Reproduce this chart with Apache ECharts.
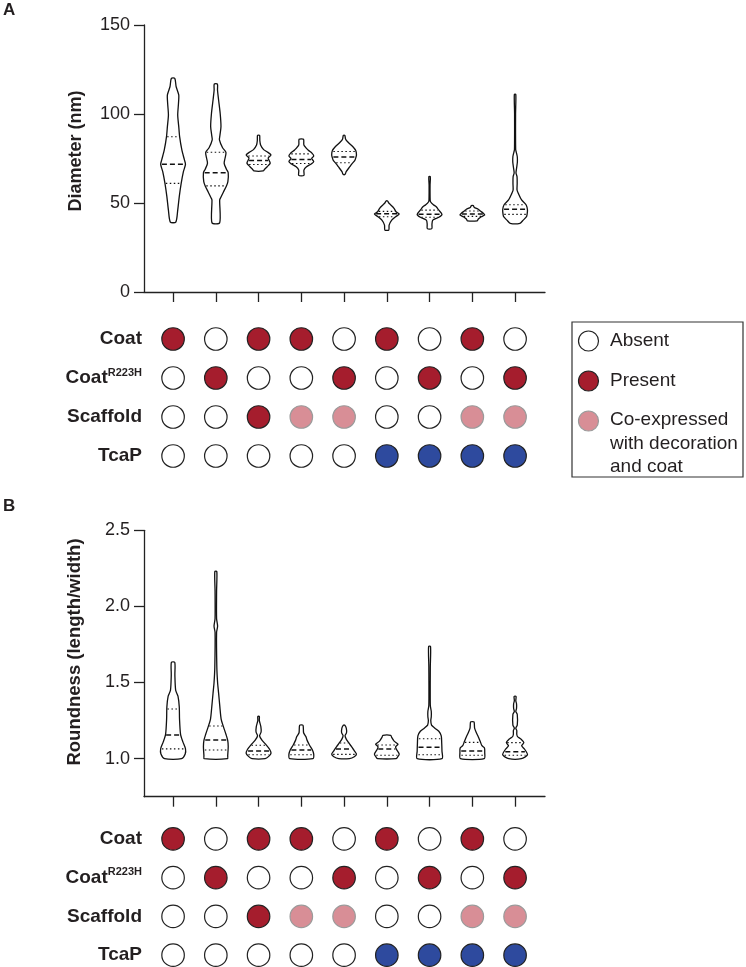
<!DOCTYPE html>
<html><head><meta charset="utf-8">
<script src="https://cdn.jsdelivr.net/npm/echarts@6/dist/echarts.min.js"></script>
<style>html,body{margin:0;padding:0;background:#fff}#c{width:746px;height:967px}</style>
</head><body><div id="c"></div>
<script>
// ---------- DATA ----------
const groupIndex = [0, 1, 2, 3, 4, 5, 6, 7, 8];
const rowNames = ['Coat', 'CoatR223H', 'Scaffold', 'TcaP'];
// 0 = absent, 1 = present, 2 = co-expressed with decoration and coat
const coatState      = [1, 0, 1, 1, 0, 1, 0, 1, 0];
const coatR223HState = [0, 1, 0, 0, 1, 0, 1, 0, 1];
const scaffoldState  = [0, 0, 1, 2, 2, 0, 0, 2, 2];
const tcapState      = [0, 0, 0, 0, 0, 1, 1, 1, 1];

const diameterTicks = [0, 50, 100, 150];
const roundnessTicks = [1.0, 1.5, 2.0, 2.5];

// violin density profiles: [value, relative density]
const diameterProfiles = [
  [[120.0,3.3],[115.3,6],[110.7,11],[106,10.5],[99.4,9],[92.9,11],[87.3,12.7],[79.8,17],[74.2,22],[71.7,24],[67.6,20],[61,15.7],[53.6,12],[46,9],[39.3,5.3]],
  [[116.8,3.3],[113.5,3.5],[108,5.7],[100.4,9],[93,10.7],[88,8.5],[85.4,7.5],[81,14],[78.5,21],[75,19],[72.3,17.3],[69,22],[67,25.7],[62,25],[59.6,22],[56.3,16],[53,10],[51.7,8],[38.9,8]],
  [[88,2],[85,2.5],[82.6,4],[80,10],[78.8,16.7],[77,24.5],[75.3,19],[73.8,21],[72.3,23],[70.4,17],[69,12],[68,9]],
  [[85.8,4.3],[82.6,5],[79.8,13],[77.9,21],[76.4,24],[75.1,20],[73.2,24],[71.9,19],[70.4,10],[68.5,5],[65.5,5]],
  [[88,1.5],[86,3],[84.4,7.3],[81.6,18],[79.4,24],[77,25.3],[75.5,24],[73.8,21.7],[72,16],[70.4,11.7],[67.6,4.3],[66.1,2]],
  [[51.1,1.5],[50,4],[48.9,8],[47,14.7],[45.1,18.7],[43.8,25.3],[42.3,18],[40.4,10],[37.6,4.7],[34.8,4]],
  [[64.8,1.5],[60,1],[52,1.2],[50.7,2],[49,8],[47.9,14],[46.1,19],[43.6,26],[42,19.3],[40.4,6.7],[38,5],[35.6,4.7]],
  [[48.5,2],[47.5,4],[46.5,12],[45.5,16],[44.3,22],[43.3,25],[42.3,18],[41,12],[40,10]],
  [[111,1.5],[100,1],[80,1.2],[78.5,2.5],[76,4.5],[73,4.7],[70.4,3.5],[67.5,2],[66.7,2],[64.8,4],[61,4.3],[57.3,4],[55.4,6.7],[51.7,13.3],[48.9,22.7],[46.1,25.3],[43.6,24.5],[42.3,23.3],[40.4,16.7],[38.6,10]]
];
const diameterMedian = [71.7, 67.0, 73.9, 74.5, 75.8, 44.0, 43.7, 43.8, 46.5];
const diameterQ1     = [61.0, 59.6, 71.6, 72.2, 72.6, 42.3, 42.0, 42.5, 43.6];
const diameterQ3     = [87.2, 78.5, 76.4, 77.6, 78.9, 45.3, 46.0, 45.5, 49.0];

const roundnessProfiles = [
  [[1.632,3.3],[1.55,3.5],[1.45,5],[1.41,9.5],[1.34,12],[1.26,12.5],[1.16,14.5],[1.11,19],[1.065,24],[1.03,23.5],[1.0,16.5]],
  [[2.229,2],[2.1,1.5],[1.92,1.5],[1.87,3.5],[1.83,1.5],[1.6,2],[1.5,3.5],[1.43,5.5],[1.34,8],[1.26,10.5],[1.21,15],[1.16,20],[1.12,23.5],[1.08,24.5],[1.02,23.5],[1.0,23]],
  [[1.277,1.5],[1.25,1.5],[1.21,4.5],[1.175,5],[1.15,2],[1.12,7],[1.09,15],[1.06,22],[1.035,24.5],[1.015,20],[1.0,13]],
  [[1.219,3.3],[1.17,4.5],[1.145,9],[1.12,11.5],[1.09,16],[1.06,21.5],[1.03,24.5],[1.0,23]],
  [[1.219,1.5],[1.2,4.5],[1.17,5],[1.15,2],[1.125,5],[1.10,10.5],[1.08,15],[1.05,21.5],[1.03,25.5],[1.012,21],[1.0,11]],
  [[1.153,8],[1.14,10],[1.115,15],[1.095,23],[1.077,18],[1.06,20],[1.03,25.5],[1.01,22],[1.0,19]],
  [[1.737,2],[1.6,1.5],[1.35,1.5],[1.31,3.5],[1.275,3.5],[1.25,2.5],[1.22,4],[1.2,11],[1.18,19],[1.15,24],[1.1,25],[1.05,25.5],[1.0,25.5]],
  [[1.241,3.3],[1.2,4.5],[1.17,8],[1.146,11.5],[1.114,15.5],[1.085,19],[1.07,24],[1.04,24.5],[1.0,23.5]],
  [[1.409,2],[1.38,1.5],[1.36,3],[1.33,3],[1.31,1.5],[1.29,4.5],[1.22,4.5],[1.2,1.5],[1.185,3.5],[1.16,3.5],[1.145,5],[1.13,11.5],[1.105,18],[1.085,13.5],[1.06,20],[1.025,25.5],[1.0,13]]
];
const roundnessMedian = [1.155, 1.123, 1.050, 1.057, 1.064, 1.064, 1.075, 1.050, 1.045];
const roundnessQ1     = [1.064, 1.057, 1.026, 1.026, 1.028, 1.022, 1.026, 1.022, 1.022];
const roundnessQ3     = [1.326, 1.214, 1.088, 1.090, 1.103, 1.090, 1.131, 1.107, 1.105];

// ---------- STYLE ----------
const FONT = 'Liberation Sans, Arial, Helvetica, sans-serif';
const INK = '#231f20';
const HALF = 0.29;   // violin half-width in category units
const X_MIN = -0.68, X_MAX = 8.70;
const RED = '#a51d2d', PINK = '#d88e96', BLUE = '#2e4a9e';

function interp(prof, v) {
  for (let k = 0; k < prof.length - 1; k++) {
    const [v0, w0] = prof[k], [v1, w1] = prof[k + 1];
    if (v <= v0 && v >= v1) { const t = (v0 - v) / ((v0 - v1) || 1); return w0 + (w1 - w0) * t; }
  }
  return prof[prof.length - 1][1];
}
function makeViolin(profiles, med, q1, q3) {
  return function (params, api) {
    const d = params.dataIndex;
    const x = api.value(0);
    const prof = profiles[d];
    const maxW = Math.max.apply(null, prof.map(p => p[1]));
    const r = [], l = [];
    prof.forEach(([v, w]) => {
      const h = w / maxW * HALF;
      r.push(api.coord([x + h, v]));
      l.push(api.coord([x - h, v]));
    });
    const pts = r.concat(l.reverse());
    const children = [{
      type: 'polygon', shape: { points: pts, smooth: 0.25 },
      style: { fill: '#fff', stroke: '#111', lineWidth: 1.3 }
    }];
    const addLine = (v, dash, lw) => {
      const h = interp(prof, v) / maxW * HALF * 0.9;
      const a = api.coord([x - h, v]), b = api.coord([x + h, v]);
      children.push({ type: 'line', shape: { x1: a[0], y1: a[1], x2: b[0], y2: b[1] },
        style: { stroke: '#111', lineWidth: lw, lineDash: dash } });
    };
    addLine(med[d], [5, 3], 1.5);
    addLine(q1[d], [1.5, 2.5], 1.1);
    addLine(q3[d], [1.5, 2.5], 1.1);
    return { type: 'group', children };
  };
}

const states = [coatState, coatR223HState, scaffoldState, tcapState];
const dotData = [];
states.forEach((row, r) => row.forEach((s, c) => {
  const color = s === 0 ? '#ffffff' : (s === 2 ? PINK : (rowNames[r] === 'TcaP' ? BLUE : RED));
  const border = s === 2 ? '#9a9a9a' : '#222';
  dotData.push({ value: [groupIndex[c], rowNames[r], s], itemStyle: { color: color, borderColor: border } });
}));

const axisLineStyle = { lineStyle: { color: '#222', width: 1.3 } };

function valueXAxis(gi, show) {
  return {
    type: 'value', gridIndex: gi, min: X_MIN, max: X_MAX, show: show,
    axisLine: Object.assign({ show: true, onZero: false }, axisLineStyle),
    axisTick: { show: true, length: 10, customValues: groupIndex, lineStyle: { color: '#222', width: 1.3 } },
    axisLabel: { show: false }, splitLine: { show: false }
  };
}
function dotYAxis(gi) {
  return {
    type: 'category', gridIndex: gi, data: rowNames, inverse: true,
    axisLine: { show: false }, axisTick: { show: false }, splitLine: { show: false },
    axisLabel: {
      margin: 2,
      formatter: v => v === 'CoatR223H' ? '{b|Coat}{s|R223H}' : '{b|' + v + '}',
      rich: {
        b: { fontFamily: FONT, fontWeight: 'bold', fontSize: 19, color: INK, lineHeight: 22 },
        s: { fontFamily: FONT, fontWeight: 'bold', fontSize: 11, color: INK, lineHeight: 22, verticalAlign: 'top', padding: [0, 0, 6, 0] }
      }
    }
  };
}
function dotSeries(xi, yi) {
  return {
    type: 'scatter', xAxisIndex: xi, yAxisIndex: yi, data: dotData, symbol: 'circle', symbolSize: 22.5,
    encode: { x: 0, y: 1 }, silent: true,
    itemStyle: { borderWidth: 1.2, opacity: 1 }
  };
}
const tickLabelStyle = { fontFamily: FONT, fontSize: 18, color: INK, margin: 14 };
const gridBase = { containLabel: false, outerBoundsMode: 'none' };

const option = {
  animation: false,
  backgroundColor: '#fff',
  grid: [
    Object.assign({ left: 144, width: 401, top: 25, height: 267 }, gridBase),
    Object.assign({ left: 144, width: 401, top: 319.5, height: 156 }, gridBase),
    Object.assign({ left: 144, width: 401, top: 530.3, height: 266.4 }, gridBase),
    Object.assign({ left: 144, width: 401, top: 819.5, height: 155 }, gridBase)
  ],
  xAxis: [valueXAxis(0, true), valueXAxis(1, false), valueXAxis(2, true), valueXAxis(3, false)],
  yAxis: [
    {
      type: 'value', gridIndex: 0, min: diameterTicks[0], max: diameterTicks[diameterTicks.length - 1], interval: 50,
      axisLine: Object.assign({ show: true, onZero: false }, axisLineStyle),
      axisTick: { show: true, length: 10, customValues: diameterTicks, lineStyle: { color: '#222', width: 1.3 } },
      axisLabel: Object.assign({ customValues: diameterTicks }, tickLabelStyle),
      splitLine: { show: false }
    },
    dotYAxis(1),
    {
      type: 'value', gridIndex: 2, min: 0.75, max: 2.5, interval: 0.25,
      axisLine: Object.assign({ show: true, onZero: false }, axisLineStyle),
      axisTick: { show: true, length: 10, customValues: roundnessTicks, lineStyle: { color: '#222', width: 1.3 } },
      axisLabel: Object.assign({ customValues: roundnessTicks, formatter: v => v.toFixed(1) }, tickLabelStyle),
      splitLine: { show: false }
    },
    dotYAxis(3)
  ],
  series: [
    { type: 'custom', xAxisIndex: 0, yAxisIndex: 0, clip: false, silent: true,
      renderItem: makeViolin(diameterProfiles, diameterMedian, diameterQ1, diameterQ3),
      data: groupIndex.map((g, k) => [g, diameterMedian[k]]) },
    dotSeries(1, 1),
    { type: 'custom', xAxisIndex: 2, yAxisIndex: 2, clip: false, silent: true,
      renderItem: makeViolin(roundnessProfiles, roundnessMedian, roundnessQ1, roundnessQ3),
      data: groupIndex.map((g, k) => [g, roundnessMedian[k]]) },
    dotSeries(3, 3)
  ],
  graphic: [
    { type: 'text', left: 3, top: 2, style: { text: 'A', font: 'bold 17px ' + FONT, fill: INK } },
    { type: 'text', left: 3, top: 498, style: { text: 'B', font: 'bold 17px ' + FONT, fill: INK } },
    { type: 'text', x: 76, y: 151, rotation: Math.PI / 2,
      style: { text: 'Diameter (nm)', font: 'bold 18px ' + FONT, fill: INK, align: 'center', verticalAlign: 'middle' } },
    { type: 'text', x: 75, y: 652, rotation: Math.PI / 2,
      style: { text: 'Roundness (length/width)', font: 'bold 18.5px ' + FONT, fill: INK, align: 'center', verticalAlign: 'middle' } },
    { type: 'rect', shape: { x: 572, y: 322, width: 171, height: 155 }, style: { fill: 'none', stroke: '#333', lineWidth: 1.2 } },
    { type: 'circle', shape: { cx: 588.5, cy: 341, r: 10 }, style: { fill: '#fff', stroke: '#222', lineWidth: 1.2 } },
    { type: 'circle', shape: { cx: 588.5, cy: 381, r: 10 }, style: { fill: RED, stroke: '#222', lineWidth: 1.2 } },
    { type: 'circle', shape: { cx: 588.5, cy: 421, r: 10 }, style: { fill: PINK, stroke: '#9a9a9a', lineWidth: 1.2 } },
    { type: 'text', x: 610, y: 341, style: { text: 'Absent', font: '19px ' + FONT, fill: INK, verticalAlign: 'middle' } },
    { type: 'text', x: 610, y: 381, style: { text: 'Present', font: '19px ' + FONT, fill: INK, verticalAlign: 'middle' } },
    { type: 'text', x: 610, y: 408.5, style: { text: 'Co-expressed\nwith decoration\nand coat', font: '19px ' + FONT, fill: INK, verticalAlign: 'top', lineHeight: 23.3 } }
  ]
};
const chart = echarts.init(document.getElementById('c'), null, { renderer: 'canvas' });
chart.setOption(option);
</script>
</body></html>
